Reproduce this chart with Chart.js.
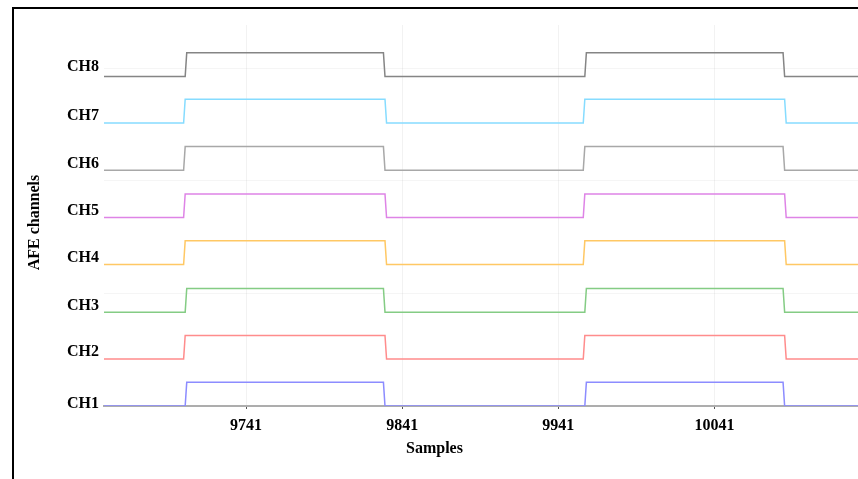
<!DOCTYPE html>
<html>
<head>
<meta charset="utf-8">
<script src="https://cdn.jsdelivr.net/npm/chart.js@4.4.0/dist/chart.umd.min.js"></script>
<style>
  html, body { margin: 0; padding: 0; background: #fff; overflow: hidden; }
  #wrap { position: relative; width: 858px; height: 479px; }
  #frame { position: absolute; left: 12px; top: 7px; width: 900px; height: 520px; border: 2px solid #000; box-sizing: border-box; }
  #chart { position: absolute; left: 0; top: 0; }
</style>
</head>
<body>
<div id="wrap">
  <div id="frame"></div>
  <canvas id="chart" width="858" height="479"></canvas>
</div>
<script>
// channel names, bottom to top
const channels = ['CH1', 'CH2', 'CH3', 'CH4', 'CH5', 'CH6', 'CH7', 'CH8'];
const colors = ['#8c8cff', '#ff8c8c', '#84cc84', '#ffc864', '#de84e6', '#a8a8a8', '#86dcff', '#858585'];
// low level of each trace and height of the high level
const lowLevels = [0, 1.25, 2.5, 3.77, 5.02, 6.28, 7.54, 8.78];
const highStep = 0.63;
// last sample before each toggle (low->high, high->low, ...)
const ch1Edges = [9702, 9829, 9958, 10085];
const ch2Edges = [9701, 9830, 9957, 10086];
const ch3Edges = [9702, 9829, 9958, 10085];
const ch4Edges = [9701, 9830, 9957, 10086];
const ch5Edges = [9701, 9830, 9957, 10086];
const ch6Edges = [9701, 9829, 9957, 10085];
const ch7Edges = [9701, 9830, 9957, 10086];
const ch8Edges = [9702, 9829, 9958, 10085];
const allEdges = [ch1Edges, ch2Edges, ch3Edges, ch4Edges, ch5Edges, ch6Edges, ch7Edges, ch8Edges];
const firstSample = 9650;
const lastSample = 10140;
// axis ticks
const xTicks = [9741, 9841, 9941, 10041];
const yGrid = [0, 3, 6, 9];
const yLabelPos = [0.07, 1.43, 2.68, 3.95, 5.21, 6.44, 7.73, 9.03];

const serif = '"Liberation Serif", "Times New Roman", serif';

function buildTrace(edges, low) {
    let state = 0;
    const pts = [{x: firstSample, y: low}];
    edges.forEach(e => {
        pts.push({x: e, y: low + state * highStep});
        state = 1 - state;
        pts.push({x: e + 1, y: low + state * highStep});
    });
    pts.push({x: lastSample, y: low + state * highStep});
    return pts;
}

const datasets = channels.map((name, i) => ({
    label: name,
    data: buildTrace(allEdges[i], lowLevels[i]),
    borderColor: colors[i],
    borderWidth: 1.5,
    pointRadius: 0,
    tension: 0,
    fill: false
}));

// axis titles sit off-centre in the original, so draw them by hand
const axisTitles = {
    id: 'axisTitles',
    afterDraw(chart) {
        const c = chart.ctx;
        c.save();
        c.font = 'bold 16px ' + serif;
        c.fillStyle = '#000';
        c.textAlign = 'center';
        c.textBaseline = 'middle';
        c.fillText('Samples', 434.5, 449);
        c.translate(35, 222.5);
        c.rotate(-Math.PI / 2);
        c.fillText('AFE channels', 0, 0);
        c.restore();
    }
};

new Chart(document.getElementById('chart').getContext('2d'), {
    type: 'line',
    data: { datasets: datasets },
    options: {
        responsive: false,
        animation: false,
        layout: { padding: { top: 25, left: 0, right: 0, bottom: 0 } },
        plugins: { legend: { display: false }, tooltip: { enabled: false } },
        scales: {
            x: {
                type: 'linear',
                min: firstSample,
                max: 10133,
                afterBuildTicks: s => { s.ticks = xTicks.map(v => ({value: v})); },
                afterFit: s => { s.height = 73; },
                grid: { color: 'rgba(0,0,0,0.05)', tickColor: '#555', tickLength: 3, drawTicks: true },
                border: { display: true, color: '#adadad', width: 2 },
                ticks: {
                    padding: 7,
                    color: '#000',
                    maxRotation: 0,
                    autoSkip: false,
                    font: { family: serif, size: 16, weight: 'bold' },
                    callback: v => String(v)
                }
            },
            y: {
                type: 'linear',
                min: 0,
                max: 10.15,
                afterBuildTicks: s => {
                    s.ticks = yGrid.concat(yLabelPos).sort((a, b) => a - b).map(v => ({value: v}));
                },
                afterFit: s => { s.width = 104; },
                grid: {
                    drawTicks: false,
                    color: c => yGrid.includes(c.tick && c.tick.value) ? 'rgba(0,0,0,0.04)' : 'rgba(0,0,0,0)'
                },
                border: { display: false },
                ticks: {
                    padding: 5,
                    autoSkip: false,
                    color: '#000',
                    font: { family: serif, size: 16, weight: 'bold' },
                    callback: v => {
                        const i = yLabelPos.indexOf(v);
                        return i >= 0 ? channels[i] : '';
                    }
                }
            }
        }
    },
    plugins: [axisTitles]
});
</script>
</body>
</html>
